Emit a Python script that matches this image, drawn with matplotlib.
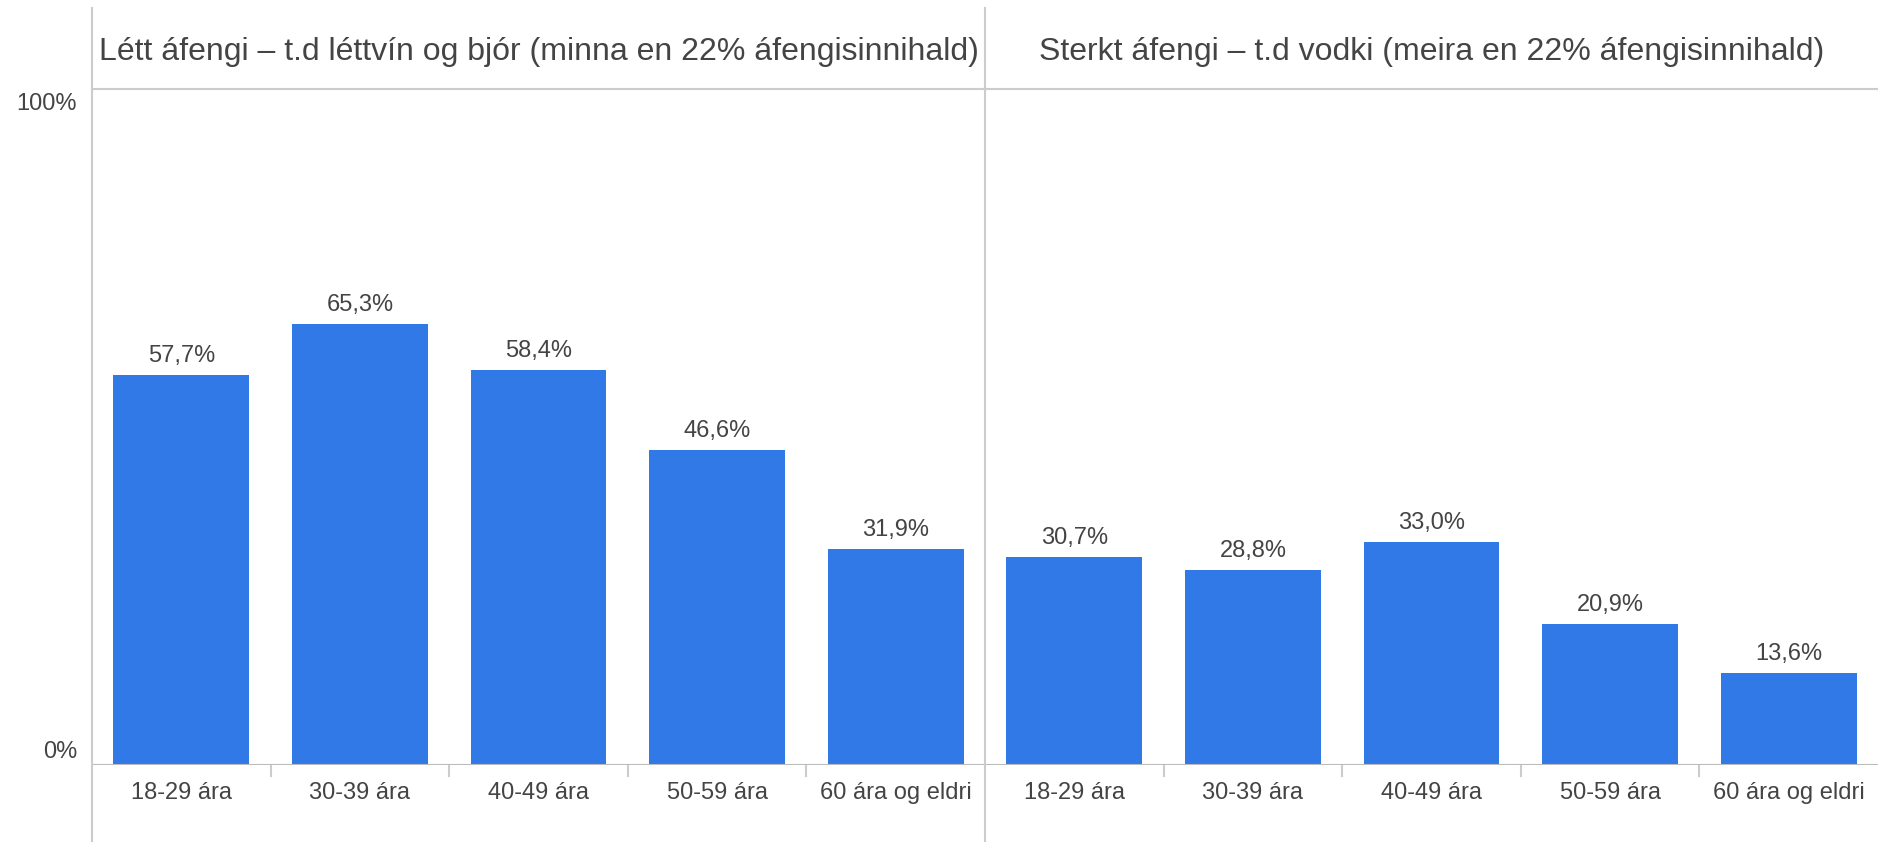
import matplotlib.pyplot as plt
from matplotlib.lines import Line2D

plt.rcParams["font.family"] = ["Liberation Sans", "DejaVu Sans"]

# Data
groups = ["Létt áfengi – t.d léttvín og bjór (minna en 22% áfengisinnihald)",
          "Sterkt áfengi – t.d vodki (meira en 22% áfengisinnihald)"]
ages = ["18-29 ára", "30-39 ára", "40-49 ára", "50-59 ára", "60 ára og eldri"]
light = [57.7, 65.3, 58.4, 46.6, 31.9]
strong = [30.7, 28.8, 33.0, 20.9, 13.6]

bar_color = "#3179e6"
text_color = "#444444"
line_color = "#cccccc"

W, H = 1878, 842
fig = plt.figure(figsize=(W / 100, H / 100), dpi=100)
left_px, right_px, top_px, base_px = 92, 1878, 89, 765
ax = fig.add_axes([left_px / W, 1 - base_px / H,
                   (right_px - left_px) / W, (base_px - top_px) / H])

values = light + strong
labels = ages + ages
x = list(range(len(values)))
ax.bar(x, values, width=0.76, color=bar_color, zorder=2)
ax.set_xlim(-0.5, len(values) - 0.5)
ax.set_ylim(0, 100)
for s in ax.spines.values():
    s.set_visible(False)
ax.set_xticks([])
ax.set_yticks([])

# value labels
for xi, v in zip(x, values):
    ax.annotate(f"{v:.1f}".replace(".", ",") + "%", (xi, v), xytext=(0, 19),
                textcoords="offset pixels", ha="center", va="center",
                fontsize=17, color=text_color)

# category labels below axis
for xi, lab in zip(x, labels):
    ax.annotate(lab, (xi, 0), xytext=(0, -28), textcoords="offset pixels",
                ha="center", va="center", fontsize=17, color=text_color,
                annotation_clip=False)

# baseline and separator ticks
ax.axhline(0, color="#bbbbbb", lw=1.5, zorder=3)
for sep in [0.5, 1.5, 2.5, 3.5, 5.5, 6.5, 7.5, 8.5]:
    ax.plot([sep, sep], [0, -1.6], color=line_color, lw=1.5, clip_on=False)

# y labels
fig.text((left_px - 15) / W, 1 - 104 / H, "100%", ha="right", va="center",
         fontsize=17, color=text_color)
fig.text((left_px - 15) / W, 1 - 752 / H, "0%", ha="right", va="center",
         fontsize=17, color=text_color)

# header frame
div_px = left_px + 5 * (right_px - left_px) / 10
fig.add_artist(Line2D([left_px / W, left_px / W], [0, 1 - 8 / H],
                      color=line_color, lw=1.5))
fig.add_artist(Line2D([div_px / W, div_px / W], [0, 1 - 8 / H],
                      color=line_color, lw=1.5))
fig.add_artist(Line2D([left_px / W, 1], [1 - top_px / H, 1 - top_px / H],
                      color=line_color, lw=1.5))

# group titles
fig.text((left_px + div_px) / 2 / W, 1 - 52 / H, groups[0], ha="center",
         va="center", fontsize=23, color=text_color)
fig.text((div_px + right_px) / 2 / W, 1 - 52 / H, groups[1], ha="center",
         va="center", fontsize=23, color=text_color)

fig.savefig("out.png", dpi=100)
